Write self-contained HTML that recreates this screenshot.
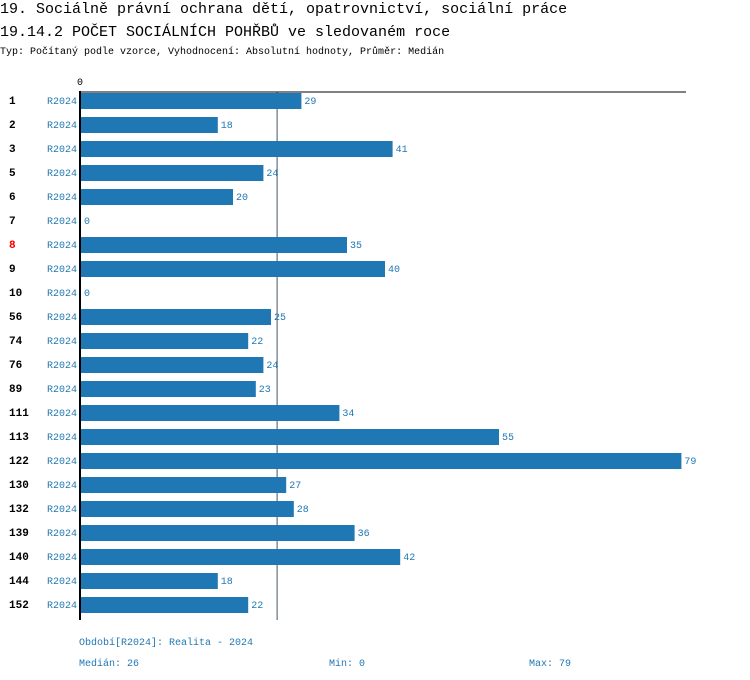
<!DOCTYPE html>
<html><head><meta charset="utf-8"><style>
body{margin:0;background:#fff;width:750px;height:680px;overflow:hidden;font-family:"Liberation Mono","DejaVu Sans Mono",monospace;}
svg{display:block}
</style></head><body>
<svg id="c" width="750" height="680">
<text x="0" y="13" font-size="15" fill="#000">19. Sociálně právní ochrana dětí, opatrovnictví, sociální práce</text>
<text x="0" y="36" font-size="15" fill="#000">19.14.2 POČET SOCIÁLNÍCH POHŘBŮ ve sledovaném roce</text>
<text x="0" y="54" font-size="10" fill="#000">Typ: Počítaný podle vzorce, Vyhodnocení: Absolutní hodnoty, Průměr: Medián</text>
<text x="77" y="85" font-size="10" fill="#000">0</text>
<line id="med" y1="92" y2="620" stroke="#445566" stroke-width="1"/>
<g id="bars"></g>
<line x1="80" y1="92" x2="686" y2="92" stroke="#000" stroke-width="1"/>
<line x1="80" y1="91" x2="80" y2="620" stroke="#000" stroke-width="2"/>
<text x="79" y="645" font-size="10" fill="#1f77b4">Období[R2024]: Realita - 2024</text>
<text x="79" y="666" font-size="10" fill="#1f77b4">Medián: 26</text>
<text x="329" y="666" font-size="10" fill="#1f77b4">Min: 0</text>
<text x="529" y="666" font-size="10" fill="#1f77b4">Max: 79</text>
</svg>
<script>
const categories=["1","2","3","5","6","7","8","9","10","56","74","76","89","111","113","122","130","132","139","140","144","152"];
const values=[29,18,41,24,20,0,35,40,0,25,22,24,23,34,55,79,27,28,36,42,18,22];
const highlighted=["8"];
const medianValue=26;
const ns="http://www.w3.org/2000/svg";
const x0=81,pxPer=7.6,y0=100,step=24;
const xs=v=>x0+v*pxPer;
const g=document.getElementById('bars');
function mk(t,a){const e=document.createElementNS(ns,t);for(const k in a)e.setAttribute(k,a[k]);return e;}
categories.forEach((c,i)=>{
  const yc=y0+i*step;
  const lab=mk('text',{x:9,y:yc+4,'font-size':11,'font-weight':'bold',fill:highlighted.includes(c)?'#e00':'#000'});
  lab.textContent=c;
  
  
  g.appendChild(lab);
  const p=mk('text',{x:47,y:yc+4,'font-size':10,fill:'#1f77b4'});
  p.textContent='R2024';
  
  
  g.appendChild(p);
  const w=xs(values[i])-x0;
  const r=mk('rect',{x:x0,y:yc-7,width:w,height:16,fill:'#1f77b4'});
  
  
  g.appendChild(r);
  const v=mk('text',{x:xs(values[i])+3,y:yc+4,'font-size':10,fill:'#1f77b4'});
  v.textContent=values[i];
  
  
  g.appendChild(v);
});
const m=document.getElementById('med');
m.setAttribute('x1',xs(medianValue)-1.5);m.setAttribute('x2',xs(medianValue)-1.5);
</script>
</body></html>
